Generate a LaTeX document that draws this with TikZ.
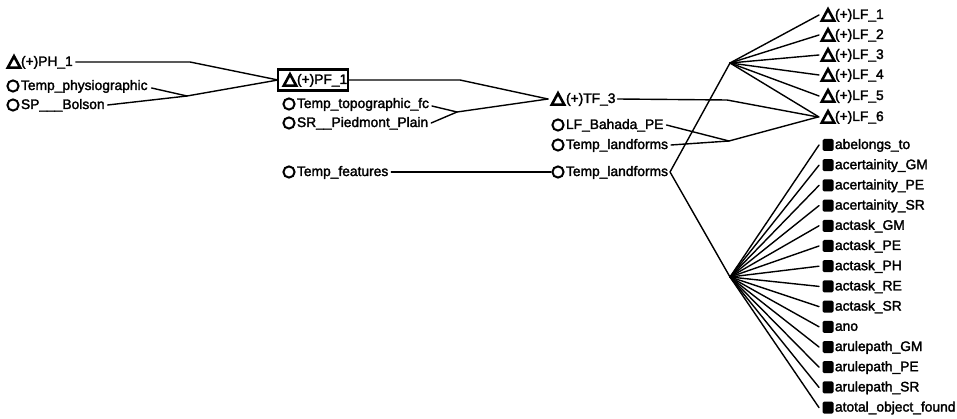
\documentclass[tikz,border=0pt]{standalone}
\usepackage{fontspec}
\setmainfont[FakeBold=2]{Liberation Sans}
\usetikzlibrary{calc}
\begin{document}
\begin{tikzpicture}[x=1pt,y=-1pt,
  every node/.style={inner sep=0pt, outer sep=0pt},
  lbl/.style={anchor=west, font=\fontsize{13.8}{16}\selectfont, text height=9.5pt, text depth=1.5pt},
  wire/.style={line width=1.4pt, line join=round, line cap=round},
  tri/.pic={\draw[line width=2.6pt, line join=miter] (-6.2,5.6) -- (6.2,5.6) -- (0,-5.8) -- cycle;},
  circ/.pic={\draw[line width=2pt] (0,0) circle (5.6);},
  sq/.pic={\fill[rounded corners=1.5pt] (-5.5,-6) rectangle (5.5,6);},
  selbox/.style={draw, line width=2.4pt, minimum width=70pt, minimum height=21pt}
]
\useasboundingbox (0,0) rectangle (957,419);
\fill[white] (0,0) rectangle (957,419);

% ---- first column
\pic at (14,62) {tri};  \node[lbl] (ph)   at (21,62)  {(+)PH\_1};
\pic at (13,86) {circ}; \node[lbl] (tphy) at (21,86)  {Temp\_physiographic};
\pic at (13,105){circ}; \node[lbl] (sp)   at (21,105) {SP\_\_\_Bolson};

% ---- selected rule
\node[selbox] (pf) at (313,80) {};
\pic at (290,80) {tri}; \node[lbl] (pft) at (297,80) {(+)PF\_1};

% ---- second column
\pic at (289,104){circ}; \node[lbl] (ttop) at (297,104) {Temp\_topographic\_fc};
\pic at (289,123){circ}; \node[lbl] (sr)   at (297,123) {SR\_\_Piedmont\_Plain};
\pic at (289,172){circ}; \node[lbl] (tfea) at (297,172) {Temp\_features};

% ---- third column
\pic at (558,99) {tri};  \node[lbl] (tf)   at (566,99)  {(+)TF\_3};
\pic at (558,125){circ}; \node[lbl] (lfb)  at (566,125) {LF\_Bahada\_PE};
\pic at (558,145){circ}; \node[lbl] (tla)  at (566,145) {Temp\_landforms};
\pic at (558,172){circ}; \node[lbl] (tlb)  at (566,172) {Temp\_landforms};

% ---- fourth column: landform rules
\foreach \k/\yy in {1/15,2/35,3/55,4/75,5/96,6/117}{
  \pic at (828,\yy) {tri};
  \node[lbl] (lf\k) at (835,\yy) {(+)LF\_\k};
}
% ---- fourth column: attributes
\foreach \txt [count=\i from 0] in {abelongs\_to,acertainity\_GM,acertainity\_PE,
  acertainity\_SR,actask\_GM,actask\_PE,actask\_PH,actask\_RE,actask\_SR,ano,
  arulepath\_GM,arulepath\_PE,arulepath\_SR,atotal\_object\_found}{
  \pgfmathsetmacro{\yy}{145+20.2*\i}
  \pic at (828,\yy) {sq};
  \node[lbl] (at\i) at (835,\yy) {\txt};
}

% ---- junction points
\coordinate (b1) at (190,62);
\coordinate (j1) at (187,96);
\coordinate (b2) at (460,80);
\coordinate (j2) at (457,112);
\coordinate (b3) at (727,100);
\coordinate (j3) at (729,141);
\coordinate (jup) at (730,63);
\coordinate (jlo) at (730,277);

% ---- connectors
\draw[wire] ([xshift=3pt]ph.east) -- (b1) -- (pf.west);
\draw[wire] ([xshift=4pt,yshift=-2pt]tphy.east) -- (j1);
\draw[wire] ([xshift=3pt]sp.east) -- (j1) -- (pf.west);

\draw[wire] (pf.east) -- (b2) -- (548,99);
\draw[wire] ([xshift=3pt,yshift=-2pt]ttop.east) -- (j2);
\draw[wire] ([xshift=3pt]sr.east) -- (j2) -- (548,99);

\draw[wire] ([xshift=2pt]tf.east) -- (b3) -- (818,117);
\draw[wire] ([xshift=3pt]lfb.east) -- (j3);
\draw[wire] ([xshift=3pt]tla.east) -- (j3) -- (818,117);

\draw[wire] ([xshift=3pt]tfea.east) -- (551,172);
\draw[wire] (jup) -- ([xshift=2pt]tlb.east) -- (jlo);

\foreach \k in {1,...,6}{ \draw[wire] (jup) -- ([xshift=-16pt]lf\k.west); }
\foreach \i in {0,...,13}{ \draw[wire] (jlo) -- ([xshift=-16pt]at\i.west); }
\end{tikzpicture}
\end{document}
